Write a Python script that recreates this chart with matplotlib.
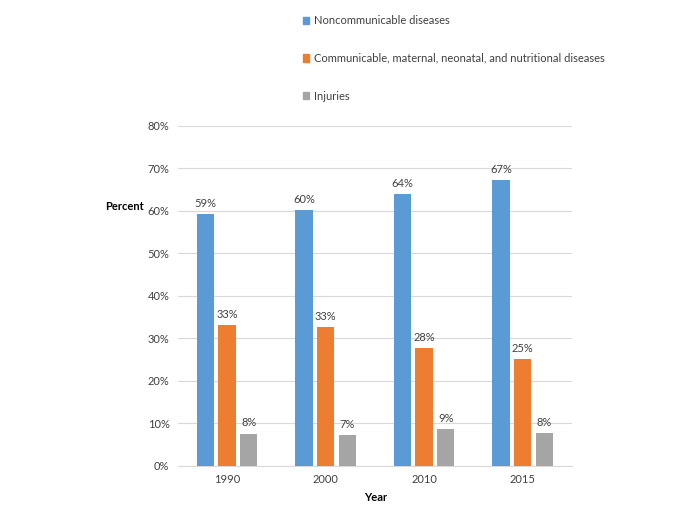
import numpy as np
import matplotlib
matplotlib.use("Agg")
from matplotlib import pyplot as plt
from matplotlib.patches import Patch

years = ["1990", "2000", "2010", "2015"]
noncommunicable = [59.3, 60.1, 64.0, 67.3]
communicable = [33.2, 32.7, 27.7, 25.1]
injuries = [7.6, 7.3, 8.6, 7.7]
series_names = ["Noncommunicable diseases",
                "Communicable, maternal, neonatal, and nutritional diseases",
                "Injuries"]
colors = ["#5B9BD5", "#ED7D31", "#A5A5A5"]

plt.rcParams['font.family'] = ['Lato', 'DejaVu Sans']

fig = plt.figure(figsize=(7, 5.24), dpi=100)
ax = fig.add_axes([0.254, 0.111, 0.563, 0.649])

x = np.arange(len(years))
width = 0.175
offsets = [-0.22, 0, 0.22]
for vals, off, col in zip([noncommunicable, communicable, injuries], offsets, colors):
    bars = ax.bar(x + off, vals, width, color=col, zorder=3)
    for b, v in zip(bars, vals):
        ax.text(b.get_x() + b.get_width() / 2, v + 1.2, "%d%%" % round(v),
                ha="center", va="bottom", fontsize=8, color="#404040")

ax.set_xlim(-0.5, len(years) - 0.5)
ax.set_ylim(0, 80)
ax.set_yticks(np.arange(0, 81, 10))
ax.set_yticklabels(["%d%%" % t for t in range(0, 81, 10)])
ax.set_xticks(x)
ax.set_xticklabels(years)
ax.tick_params(axis="both", length=0, labelsize=8, colors="#404040", pad=6)
ax.grid(axis="y", color="#D9D9D9", linewidth=0.8, zorder=0)
for s in ["top", "right", "left"]:
    ax.spines[s].set_visible(False)
ax.spines["bottom"].set_color("#D9D9D9")

fig.text(0.15, 0.605, "Percent", fontsize=8, fontweight="bold", ha="left", va="center")
fig.text(0.537, 0.051, "Year", fontsize=8, fontweight="bold", ha="center", va="center")

handles = [Patch(color=c) for c in colors]
fig.legend(handles, series_names, loc="upper left", bbox_to_anchor=(0.418, 0.99),
           frameon=False, fontsize=8, handlelength=0.6, handleheight=0.6,
           handletextpad=0.4, labelspacing=2.4, labelcolor="#404040")

plt.savefig("out.png", dpi=100)
